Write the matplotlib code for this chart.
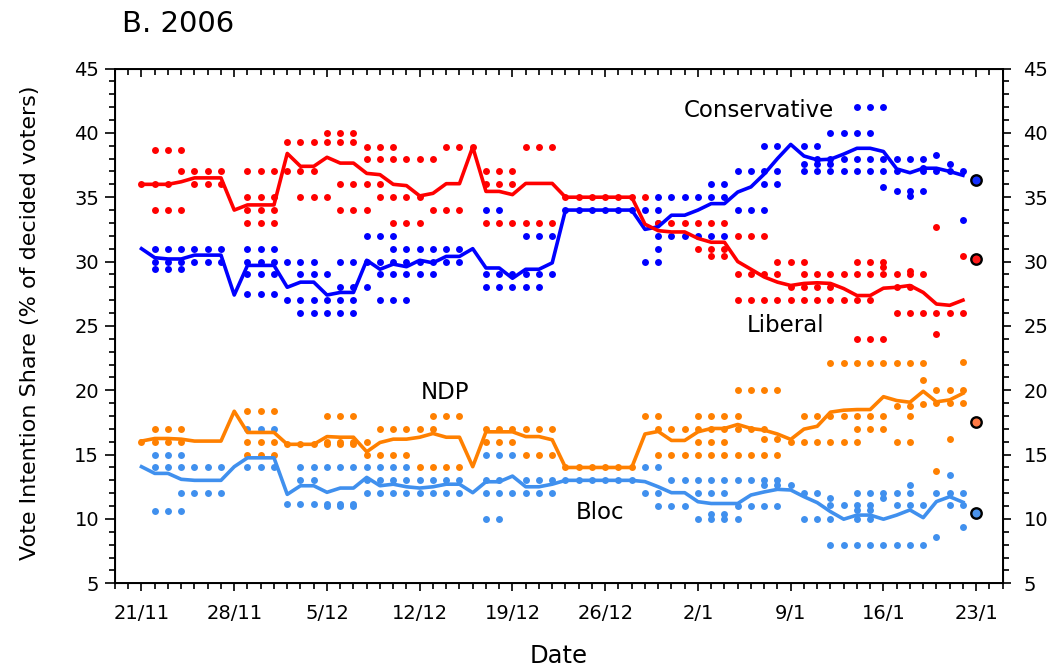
import numpy as np
import matplotlib
matplotlib.use('Agg')
import matplotlib.pyplot as plt
from matplotlib.ticker import MultipleLocator, FixedLocator, NullFormatter

plt.rcParams['font.family'] = ['DejaVu Sans']

# ---------------- data ----------------
tick_days = [0, 7, 14, 21, 28, 35, 42, 49, 56, 63]
tick_labels = ['21/11', '28/11', '5/12', '12/12', '19/12', '26/12',
               '2/1', '9/1', '16/1', '23/1']

# daily smoothed vote intention (day 0 = 21/11)
conservative = [31.0, 30.3, 30.2, 30.2, 30.5, 30.5, 30.5, 27.4, 29.7, 29.7,
                29.7, 28.0, 28.4, 28.4, 27.4, 27.6, 27.6, 30.1, 29.4, 29.8,
                29.6, 30.1, 29.9, 30.4, 30.4, 31.0, 29.5, 29.5, 28.7, 29.4,
                29.4, 29.9, 34.0, 34.0, 34.0, 34.0, 34.0, 34.0, 32.5, 32.7,
                33.6, 33.6, 34.0, 34.5, 34.5, 35.4, 35.8, 36.8, 38.0, 39.1,
                38.2, 37.9, 37.95, 38.35, 38.8, 38.8, 38.55, 37.2, 36.9, 37.25,
                37.25, 37.0, 36.7]
liberal = [36.0, 36.0, 36.0, 36.2, 36.5, 36.5, 36.5, 34.0, 34.4, 34.4,
           34.4, 38.4, 37.4, 37.4, 38.1, 37.65, 37.65, 36.85, 36.75, 36.0,
           35.9, 35.1, 35.3, 36.05, 36.05, 38.9, 35.45, 35.45, 35.2, 36.07,
           36.07, 36.07, 35.0, 35.0, 35.0, 35.0, 35.0, 35.0, 32.9, 32.4,
           32.3, 32.3, 31.8, 31.5, 31.5, 30.0, 29.4, 28.8, 28.4, 28.14,
           28.3, 28.35, 28.3, 27.9, 27.36, 27.36, 27.93, 28.0, 28.14, 27.6,
           26.7, 26.6, 27.0]
ndp = [16.05, 16.25, 16.25, 16.2, 16.05, 16.05, 16.05, 18.37, 16.72, 16.72,
       16.72, 15.8, 15.8, 15.8, 16.4, 16.35, 16.35, 15.22, 15.94, 16.2,
       16.2, 16.35, 16.64, 16.35, 16.35, 14.06, 16.77, 16.77, 16.77, 16.4,
       16.4, 16.15, 14.0, 14.0, 14.0, 14.0, 14.0, 14.0, 16.6, 16.8,
       16.1, 16.1, 16.77, 17.03, 17.03, 17.34, 17.03, 16.9, 16.6, 16.18,
       16.98, 17.2, 18.3, 18.45, 18.5, 18.5, 19.5, 19.2, 19.07, 19.92,
       19.1, 19.25, 19.76]
bloc = [14.06, 13.54, 13.54, 13.08, 13.0, 13.0, 13.0, 14.06, 14.75, 14.75,
        14.75, 11.91, 12.58, 12.58, 12.07, 12.4, 12.4, 13.23, 12.58, 12.7,
        12.5, 12.4, 12.5, 12.7, 12.7, 12.04, 12.89, 12.89, 13.33, 12.5,
        12.5, 12.7, 13.0, 13.0, 13.0, 13.0, 13.0, 13.0, 12.9, 12.5,
        12.04, 12.04, 11.34, 11.2, 11.2, 11.2, 11.86, 12.1, 12.3, 12.25,
        11.73, 11.27, 10.57, 9.98, 10.3, 10.3, 9.98, 10.3, 10.7, 10.1,
        11.35, 11.73, 11.3]

# individual polls: (first field day, last field day, share)
con_polls = [(1, 6, 31.0), (8, 10, 31.0), (19, 24, 31.0),
             (1, 6, 30.0), (8, 10, 30.0), (11, 13, 30.0), (15, 17, 30.0), (18, 24, 30.0),
             (1, 3, 29.4), (8, 10, 29.0), (12, 14, 29.0), (18, 22, 29.0),
             (15, 17, 28.0), (8, 10, 27.5), (11, 13, 27.0), (14, 16, 27.0),
             (18, 20, 27.0), (17, 19, 32.0), (12, 16, 26.0),
             (26, 31, 29.0), (26, 30, 28.0), (26, 27, 34.0), (29, 31, 32.0),
             (32, 37, 34.0),
             (39, 44, 35.0), (38, 39, 34.0), (45, 47, 34.0), (39, 39, 33.0),
             (39, 44, 32.0), (39, 39, 31.0), (38, 39, 30.0),
             (43, 44, 36.0), (47, 48, 36.0), (45, 48, 37.0), (50, 57, 37.0),
             (59, 62, 37.0), (47, 48, 39.0), (50, 51, 39.0),
             (54, 56, 42.0), (52, 55, 40.0), (51, 59, 38.0), (60, 60, 38.3),
             (50, 52, 37.6), (61, 61, 37.6), (59, 59, 37.3), (56, 56, 35.8),
             (57, 59, 35.5), (58, 58, 35.1), (62, 62, 33.2)]
lib_polls = [(0, 2, 36.0), (1, 3, 38.7), (3, 6, 37.0), (4, 6, 36.0), (1, 3, 34.0),
             (8, 13, 37.0), (11, 16, 39.3), (14, 16, 40.0),
             (8, 10, 35.0), (12, 14, 35.0), (8, 10, 34.0), (15, 17, 34.0),
             (8, 10, 33.0), (19, 21, 33.0), (15, 18, 36.0),
             (17, 19, 38.9), (23, 25, 38.9), (17, 22, 38.0), (18, 21, 35.0),
             (22, 24, 34.0),
             (29, 31, 38.9), (26, 28, 37.0), (26, 28, 36.0), (26, 31, 33.0),
             (32, 37, 35.0), (38, 38, 35.0), (39, 44, 33.0), (45, 47, 32.0),
             (42, 44, 31.0), (43, 44, 30.4), (45, 48, 29.0), (50, 59, 29.0),
             (45, 55, 27.0), (57, 62, 26.0), (49, 52, 28.0), (57, 58, 28.0),
             (54, 56, 24.0), (60, 60, 24.4),
             (48, 50, 30.0), (54, 56, 30.0), (56, 56, 29.6), (58, 58, 29.3),
             (60, 60, 32.7), (62, 62, 30.4)]
ndp_polls = [(0, 3, 16.0), (1, 3, 17.0), (8, 10, 18.4), (8, 10, 16.0), (8, 10, 15.0),
             (11, 16, 15.8), (14, 17, 16.0), (14, 16, 18.0), (17, 20, 15.0),
             (18, 22, 17.0), (22, 24, 18.0), (21, 24, 14.0),
             (26, 31, 17.0), (26, 28, 16.0), (29, 31, 15.0), (32, 37, 14.0),
             (38, 39, 18.0), (42, 45, 18.0), (45, 48, 20.0), (39, 46, 17.0),
             (42, 44, 16.0), (47, 48, 16.2), (39, 48, 15.0),
             (52, 59, 22.1), (62, 62, 22.2), (59, 59, 20.8), (60, 62, 20.0),
             (57, 58, 18.8), (59, 59, 18.9), (60, 62, 19.0), (50, 56, 18.0),
             (58, 58, 18.0), (54, 56, 17.0), (47, 47, 17.0), (61, 61, 16.2),
             (49, 54, 16.0), (57, 58, 16.0), (60, 60, 13.7)]
bloc_polls = [(8, 10, 17.0), (1, 3, 15.0), (1, 6, 14.0), (8, 10, 14.0), (12, 20, 14.0),
              (12, 13, 13.0), (17, 24, 13.0), (3, 6, 12.0), (17, 24, 12.0),
              (11, 16, 11.2), (14, 16, 11.0), (1, 3, 10.6),
              (26, 28, 15.0), (38, 39, 14.0), (26, 27, 13.0), (29, 31, 13.0),
              (32, 37, 13.0), (40, 48, 13.0), (26, 31, 12.0), (38, 39, 12.0),
              (42, 44, 12.0), (47, 48, 12.6), (39, 41, 11.0), (45, 48, 11.0),
              (26, 27, 10.0), (42, 45, 10.0), (43, 44, 10.4),
              (49, 49, 12.6), (58, 58, 12.6), (61, 61, 13.4),
              (50, 51, 12.0), (54, 58, 12.0), (60, 62, 12.0),
              (52, 52, 11.6), (56, 56, 11.6), (52, 55, 11.1), (57, 59, 11.1),
              (61, 62, 11.1), (54, 55, 10.7), (50, 52, 10.0), (54, 55, 10.0),
              (62, 62, 9.4), (60, 60, 8.6), (52, 59, 8.0)]

election_day = 63
results = [36.3, 30.2, 17.5, 10.5]

party_names = ['Conservative', 'Liberal', 'NDP', 'Bloc']
line_colors = ['#0000ff', '#ff0000', '#ff8000', '#4090ee']
result_colors = ['#1530ff', '#ff1a1a', '#ff7a45', '#4a92ea']

# ---------------- figure ----------------
fig = plt.figure(figsize=(10.55, 6.70), dpi=100)
ax = fig.add_axes([115 / 1055, 1 - 583.3 / 670, 887.7 / 1055, 514.8 / 670])

series = [conservative, liberal, ndp, bloc]
polls = [con_polls, lib_polls, ndp_polls, bloc_polls]
days = np.arange(len(conservative))

for vals, pl, col in zip(series, polls, line_colors):
    px, py = [], []
    for a, b, v in pl:
        for d in range(a, b + 1):
            px.append(d)
            py.append(v)
    ax.plot(px, py, linestyle='none', marker='o', markersize=5.0,
            markeredgewidth=0, color=col, zorder=2)
    ax.plot(days, vals, color=col, linewidth=2.6, zorder=3,
            solid_joinstyle='round')

for r, c in zip(results, result_colors):
    ax.plot([election_day], [r], marker='o', markersize=7.5, color=c,
            markeredgecolor='black', markeredgewidth=1.7, zorder=4,
            linestyle='none')

ax.set_xlim(-2, 65)
ax.set_ylim(5, 45)
ax.xaxis.set_major_locator(FixedLocator(tick_days))
ax.set_xticklabels(tick_labels)
ax.xaxis.set_minor_locator(MultipleLocator(1))
ax.yaxis.set_major_locator(MultipleLocator(5))
ax.yaxis.set_minor_locator(MultipleLocator(1))

for sp in ax.spines.values():
    sp.set_linewidth(1.2)

ax.tick_params(axis='x', which='major', direction='out', length=6, width=1.2,
               labelsize=14, pad=9)
ax.tick_params(axis='x', which='minor', direction='out', length=4, width=1.2)
ax.tick_params(axis='y', which='major', direction='out', length=7.5, width=1.2,
               labelsize=14, pad=4)
ax.tick_params(axis='y', which='minor', direction='out', length=4, width=1.2)

# right axis
axr = ax.twinx()
axr.set_ylim(5, 45)
axr.yaxis.set_major_locator(MultipleLocator(5))
axr.yaxis.set_minor_locator(MultipleLocator(1))
axr.tick_params(axis='y', which='major', direction='out', length=6, width=1.2,
                labelsize=14, pad=9)
axr.tick_params(axis='y', which='minor', direction='out', length=4, width=1.2)
for sp in axr.spines.values():
    sp.set_linewidth(1.2)

# top ticks (inside)
axt = ax.twiny()
axt.set_xlim(-2, 65)
axt.xaxis.set_major_locator(FixedLocator(tick_days))
axt.xaxis.set_minor_locator(MultipleLocator(1))
axt.xaxis.set_major_formatter(NullFormatter())
axt.tick_params(axis='x', which='major', direction='in', length=6, width=1.2)
axt.tick_params(axis='x', which='minor', direction='in', length=4.5, width=1.2)

ax.set_xlabel('Date', fontsize=17.5)
ax.xaxis.set_label_coords(0.5, -0.118)
ax.set_ylabel('Vote Intention Share (% of decided voters)', fontsize=16)
ax.yaxis.set_label_coords(-0.085, 0.5056)

label_pos = [(46.6, 41.7), (48.6, 25.0), (22.9, 19.85), (34.6, 10.5)]
for name, (lx, ly) in zip(party_names, label_pos):
    ax.text(lx, ly, name, ha='center', va='center', fontsize=16.5, zorder=5)

fig.text(122 / 1055, 1 - 32 / 670, 'B. 2006', ha='left', va='baseline',
         fontsize=21)

fig.savefig('out.png', dpi=100)
